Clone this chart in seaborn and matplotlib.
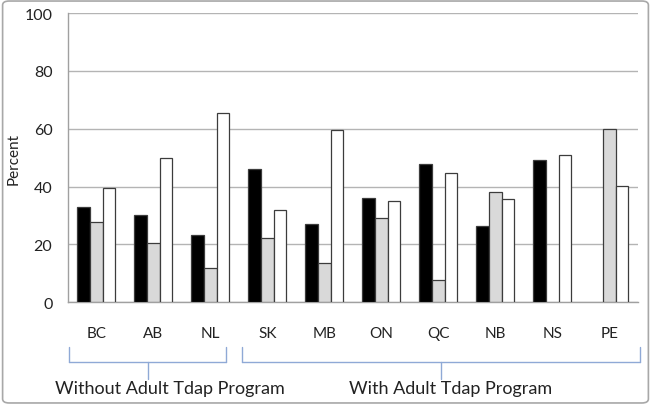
import matplotlib
matplotlib.use("Agg")
import matplotlib.pyplot as plt
import matplotlib.transforms as mtransforms
from matplotlib.lines import Line2D
from matplotlib.patches import FancyBboxPatch
import numpy as np
import pandas as pd
import seaborn as sns

# ---- data ----
provinces = ["BC", "AB", "NL", "SK", "MB", "ON", "QC", "NB", "NS", "PE"]
series_names = ["Series 1", "Series 2", "Series 3"]
black_vals = [32.8, 30.2, 23.3, 46.1, 27.0, 36.1, 47.7, 26.3, 49.2, np.nan]
gray_vals = [27.9, 20.4, 11.8, 22.2, 13.5, 29.0, 7.8, 38.2, np.nan, 60.0]
white_vals = [39.4, 49.8, 65.6, 32.0, 59.7, 35.1, 44.8, 35.7, 51.0, 40.1]
group_labels = ["Without Adult Tdap Program", "With Adult Tdap Program"]
group_spans = [(0, 2), (3, 9)]

df = pd.DataFrame({
    "province": provinces * 3,
    "series": np.repeat(series_names, len(provinces)),
    "percent": black_vals + gray_vals + white_vals,
})

sns.set_theme(style="white")
plt.rcParams["font.family"] = ["Lato", "DejaVu Sans"]

fig = plt.figure(figsize=(6.51, 4.06), dpi=100)
ax = fig.add_axes([0.104, 0.253, 0.876, 0.7125])

palette = {"Series 1": "#000000", "Series 2": "#d9d9d9", "Series 3": "#ffffff"}
sns.barplot(data=df, x="province", y="percent", hue="series", order=provinces,
            hue_order=series_names, palette=palette, width=0.667,
            edgecolor="#3c3c3c", linewidth=0.9, saturation=1, legend=False,
            ax=ax, zorder=3)

ax.set_ylim(0, 100)
ax.set_xlim(-0.5, len(provinces) - 0.5)
ax.set_yticks(range(0, 101, 20))
ax.yaxis.grid(True, color="#b4b4b4", linewidth=1.0, zorder=0)
ax.set_axisbelow(True)

for s in ["top", "right"]:
    ax.spines[s].set_visible(False)
ax.spines["left"].set_color("#a0a0a0")
ax.spines["bottom"].set_color("#a0a0a0")
ax.spines["left"].set_linewidth(1.0)
ax.spines["bottom"].set_linewidth(1.0)

ax.set_xticks(np.arange(-0.5, len(provinces)), minor=True)
ax.tick_params(axis="x", which="major", length=0, pad=17, labelsize=11, labelcolor="#222222")
ax.tick_params(axis="x", which="minor", length=5, width=1, color="#a0a0a0", direction="out")
ax.tick_params(axis="y", length=6, width=1, color="#b4b4b4", direction="out",
               labelsize=11.5, labelcolor="#222222", pad=5)
ax.set_xlabel("")
ax.set_ylabel("Percent", fontsize=11, color="#222222")
ax.yaxis.set_label_coords(-0.082, 0.5)

# brackets grouping provinces under the axis
trans = mtransforms.blended_transform_factory(ax.transData, fig.transFigure)
bcol = "#8fa9d6"
y_top, y_mid, y_low = 0.1436, 0.1067, 0.064
offsets = [(-0.47, 0.28, 1.29), (-0.44, 0.53, 6.21)]
for (a, b), lab, (o0, o1, tx) in zip(group_spans, group_labels, offsets):
    x0, x1 = a + o0, b + o1
    xm = (x0 + x1) / 2
    for xs, ys in [([x0, x0], [y_top, y_mid]), ([x1, x1], [y_top, y_mid]),
                   ([x0, x1], [y_mid, y_mid]), ([xm, xm], [y_mid, y_low])]:
        fig.add_artist(Line2D(xs, ys, transform=trans, color=bcol, linewidth=1.0))
    fig.text(tx, 0.042, lab, transform=trans, ha="center", va="center",
             fontsize=13, color="#222222")

# rounded frame around the whole picture
fig.add_artist(FancyBboxPatch((0.004, 0.005), 0.992, 0.99, boxstyle="round,pad=0,rounding_size=0.01",
                              transform=fig.transFigure, fill=False,
                              edgecolor="#a8a8a8", linewidth=1.2))

fig.savefig("out.png", dpi=100)
